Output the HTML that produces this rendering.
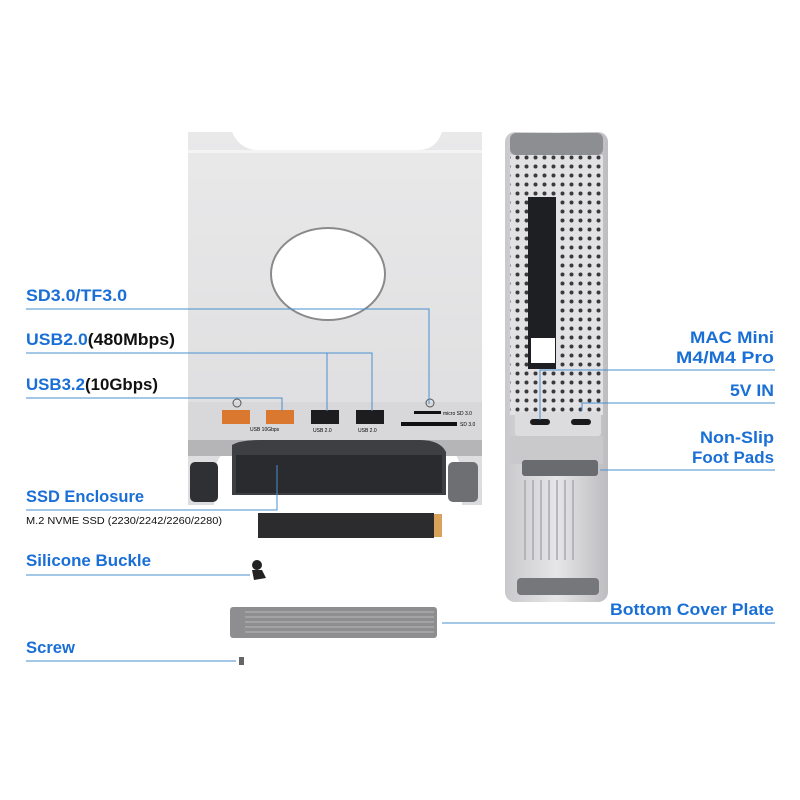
<!DOCTYPE html>
<html><head><meta charset="utf-8"><style>
html,body{margin:0;padding:0;background:#fff}
svg{display:block}
.l{font-family:"Liberation Sans",sans-serif;font-weight:bold;font-size:17px;fill:#1a6fd6}
.k{font-family:"Liberation Sans",sans-serif;font-weight:bold;font-size:17px;fill:#111}
</style></head><body>
<svg width="800" height="800" viewBox="0 0 800 800" xmlns="http://www.w3.org/2000/svg">
<defs>
<linearGradient id="face" x1="0" y1="0" x2="0" y2="1"><stop offset="0" stop-color="#e9e9ea"/><stop offset="1" stop-color="#dcdcde"/></linearGradient>
<linearGradient id="side" x1="0" y1="0" x2="1" y2="0"><stop offset="0" stop-color="#c9c9cc"/><stop offset="0.5" stop-color="#e6e6e8"/><stop offset="1" stop-color="#bdbdc0"/></linearGradient>
<pattern id="dots" width="9" height="9" patternUnits="userSpaceOnUse"><rect width="9" height="9" fill="#e2e2e4"/><circle cx="4.5" cy="4.5" r="2" fill="#3a3a3d"/></pattern>
</defs>
<!-- stand -->
<path d="M188 132 L232 132 Q240 150 258 150 L418 150 Q436 150 442 132 L482 132 L482 505 L462 505 L462 470 Q455 445 440 445 L240 445 Q222 445 214 470 L214 505 L188 505 Z" fill="url(#face)"/>
<rect x="188" y="150" width="294" height="3" fill="#f4f4f5"/>
<rect x="188" y="402" width="294" height="40" fill="#d8d8da"/>
<rect x="188" y="440" width="294" height="16" fill="#b5b5b8"/>
<path d="M232 445 Q240 440 260 440 L420 440 Q440 440 446 452 L446 495 L232 495 Z" fill="#3e3f43"/>
<rect x="236" y="455" width="206" height="38" fill="#2a2b2e"/>
<rect x="190" y="462" width="28" height="40" rx="5" fill="#2f3033"/>
<rect x="448" y="462" width="30" height="40" rx="5" fill="#6e6f72"/>
<ellipse cx="328" cy="274" rx="57" ry="46" fill="#fff" stroke="#8a8a8d" stroke-width="2"/>
<!-- ports -->
<rect x="222" y="410" width="28" height="14" fill="#d9782e"/>
<rect x="266" y="410" width="28" height="14" fill="#d9782e"/>
<rect x="311" y="410" width="28" height="14" fill="#1d1d1f"/>
<rect x="356" y="410" width="28" height="14" fill="#1d1d1f"/>
<rect x="414" y="411" width="27" height="3" fill="#111"/>
<rect x="401" y="422" width="56" height="4" fill="#111"/>
<text x="443" y="415" font-size="5" font-family="Liberation Sans">micro SD 3.0</text>
<text x="460" y="426" font-size="5" font-family="Liberation Sans">SD 3.0</text>
<text x="250" y="431" font-size="5" font-family="Liberation Sans">USB 10Gbps</text>
<text x="313" y="432" font-size="5" font-family="Liberation Sans">USB 2.0</text>
<text x="358" y="432" font-size="5" font-family="Liberation Sans">USB 2.0</text>
<circle cx="237" cy="403" r="4" fill="none" stroke="#555"/>
<circle cx="430" cy="403" r="4" fill="none" stroke="#555"/>
<!-- ssd board -->
<rect x="258" y="513" width="176" height="25" fill="#2c2c2e"/>
<rect x="434" y="514" width="8" height="23" fill="#d8a25a"/>
<!-- buckle -->
<circle cx="257" cy="565" r="5" fill="#222"/><path d="M252 570 L262 570 L266 578 L254 580 Z" fill="#222"/>
<!-- cover plate -->
<rect x="230" y="607" width="207" height="31" rx="3" fill="#8e8e91"/>
<g stroke="#b0b0b3" stroke-width="1.2"><line x1="245" y1="612" x2="434" y2="612"/><line x1="245" y1="617" x2="434" y2="617"/><line x1="245" y1="622" x2="434" y2="622"/><line x1="245" y1="627" x2="434" y2="627"/><line x1="245" y1="632" x2="434" y2="632"/></g>
<!-- screw -->
<rect x="239" y="657" width="5" height="8" fill="#666"/>
<!-- right device -->
<rect x="505" y="132" width="103" height="470" rx="10" fill="url(#side)"/>
<rect x="510" y="133" width="93" height="22" rx="6" fill="#8d8e91"/>
<rect x="510" y="155" width="93" height="260" fill="url(#dots)"/>
<rect x="528" y="197" width="28" height="172" fill="#1e1f22"/>
<rect x="531" y="338" width="24" height="25" fill="#fff"/>
<rect x="515" y="412" width="86" height="24" rx="3" fill="#dcdcde"/>
<rect x="530" y="419" width="20" height="6" rx="3" fill="#1a1a1c"/>
<rect x="571" y="419" width="20" height="6" rx="3" fill="#1a1a1c"/>
<rect x="510" y="436" width="93" height="28" fill="#c9c9cc"/>
<rect x="522" y="460" width="76" height="16" rx="3" fill="#6a6b6e"/>
<g stroke="#a9a9ad" stroke-width="1.5"><line x1="525" y1="480" x2="525" y2="560"/><line x1="533" y1="480" x2="533" y2="560"/><line x1="541" y1="480" x2="541" y2="560"/><line x1="549" y1="480" x2="549" y2="560"/><line x1="557" y1="480" x2="557" y2="560"/><line x1="565" y1="480" x2="565" y2="560"/><line x1="573" y1="480" x2="573" y2="560"/></g>
<rect x="517" y="578" width="82" height="17" rx="4" fill="#76777a"/>
<!-- connector lines -->
<g stroke="#4a8fd0" stroke-width="1" fill="none">
<polyline points="26,309 429,309 429,404"/>
<polyline points="26,353 372,353 372,411"/>
<polyline points="327,353 327,411"/>
<polyline points="26,398 282,398 282,411"/>
<polyline points="26,510 277,510 277,465"/>
<line x1="26" y1="575" x2="250" y2="575"/>
<line x1="26" y1="661" x2="236" y2="661"/>
<line x1="442" y1="623" x2="775" y2="623"/>
<polyline points="540,420 540,370 775,370"/>
<polyline points="582,411 582,403 775,403"/>
<line x1="600" y1="470" x2="775" y2="470"/>
</g>
<!-- labels -->
<text class="l" x="26" y="301" textLength="101" lengthAdjust="spacingAndGlyphs">SD3.0/TF3.0</text>
<text x="26" y="345" class="l" textLength="149" lengthAdjust="spacingAndGlyphs">USB2.0<tspan class="k">(480Mbps)</tspan></text>
<text x="26" y="390" class="l" textLength="132" lengthAdjust="spacingAndGlyphs">USB3.2<tspan class="k">(10Gbps)</tspan></text>
<text class="l" x="26" y="502" textLength="118" lengthAdjust="spacingAndGlyphs">SSD Enclosure</text>
<text x="26" y="524" font-family="Liberation Sans" font-size="10" fill="#111" textLength="196" lengthAdjust="spacingAndGlyphs">M.2 NVME SSD (2230/2242/2260/2280)</text>
<text class="l" x="26" y="566" textLength="125" lengthAdjust="spacingAndGlyphs">Silicone Buckle</text>
<text class="l" x="26" y="653" textLength="49" lengthAdjust="spacingAndGlyphs">Screw</text>
<text class="l" x="690" y="343" textLength="84" lengthAdjust="spacingAndGlyphs">MAC Mini</text>
<text class="l" x="676" y="363" textLength="98" lengthAdjust="spacingAndGlyphs">M4/M4 Pro</text>
<text class="l" x="730" y="396" textLength="44" lengthAdjust="spacingAndGlyphs">5V IN</text>
<text class="l" x="700" y="443" textLength="74" lengthAdjust="spacingAndGlyphs">Non-Slip</text>
<text class="l" x="692" y="463" textLength="82" lengthAdjust="spacingAndGlyphs">Foot Pads</text>
<text class="l" x="610" y="615" textLength="164" lengthAdjust="spacingAndGlyphs">Bottom Cover Plate</text>
</svg>
</body></html>
